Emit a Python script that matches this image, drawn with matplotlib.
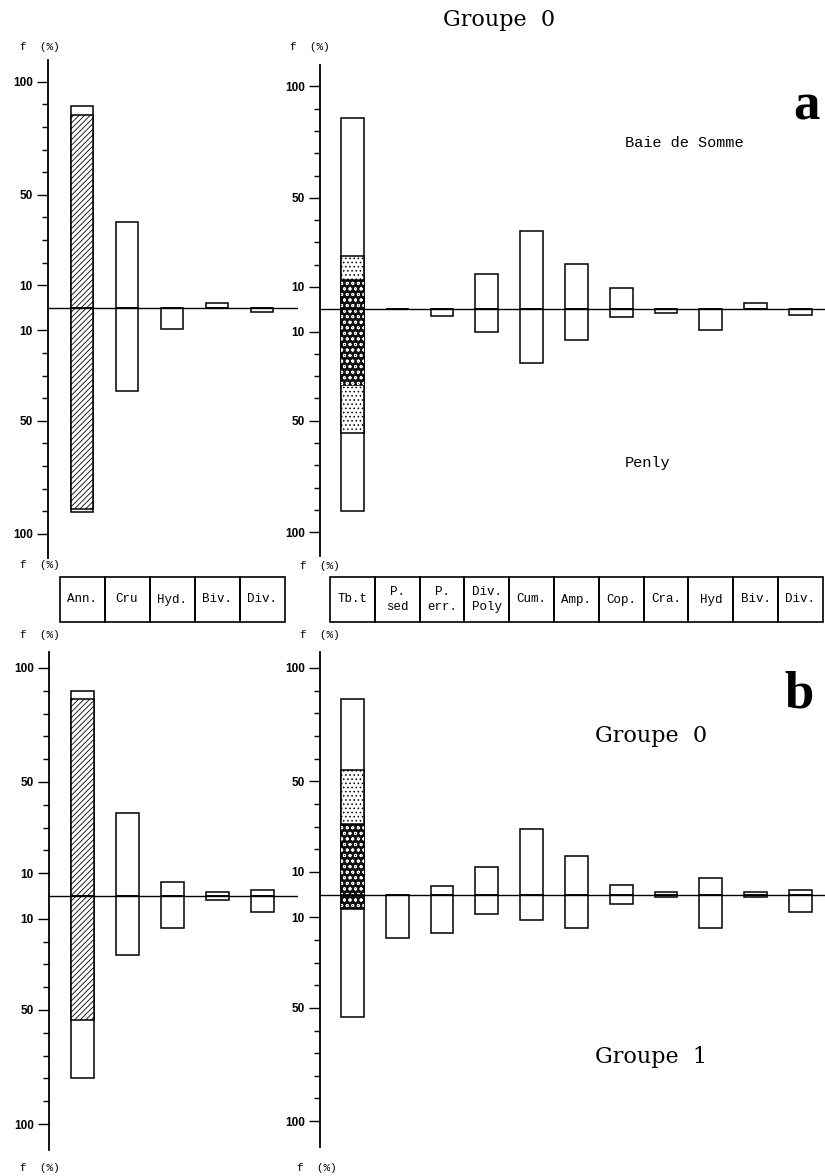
import matplotlib
matplotlib.use('Agg')
import matplotlib.pyplot as plt
from matplotlib.patches import Rectangle
import numpy as np

# categories
cats_left = ['Ann.', 'Cru', 'Hyd.', 'Biv.', 'Div.']
cats_right = ['Tb.t', 'P.\nsed', 'P.\nerr.', 'Div.\nPoly', 'Cum.', 'Amp.',
              'Cop.', 'Cra.', 'Hyd', 'Biv.', 'Div.']

# a : Baie de Somme (haut) / Penly (bas), f en %
a_left_somme = [89.3, 38.0, 0.0, 2.2, 0.0]
a_left_penly = [90.5, 36.9, 9.6, 0.0, 1.8]
a_ann_hatch = [85.3, 89.0]          # part hachuree (somme, penly)

a_right_somme = [85.7, 0.0, 0.0, 16.0, 35.3, 20.4, 9.6, 0.0, 0.0, 2.7, 0.0]
a_right_penly = [90.6, 0.0, 3.0, 10.2, 24.2, 13.6, 3.5, 1.8, 9.2, 0.0, 2.4]
a_tbt_dark = [13.0, 34.0]           # sommet partie foncee (somme, penly)
a_tbt_light = [24.0, 55.6]          # sommet partie pointillee

# b : Groupe 0 (haut) / Groupe 1 (bas)
b_left_g0 = [90.0, 36.3, 6.3, 1.6, 2.6]
b_left_g1 = [80.0, 25.9, 14.0, 1.8, 7.2]
b_ann_hatch = [86.5, 54.2]

b_right_g0 = [86.4, 0.0, 3.6, 12.2, 29.0, 16.8, 4.4, 1.0, 7.2, 1.0, 1.8]
b_right_g1 = [54.0, 19.2, 17.0, 8.8, 11.4, 14.7, 4.2, 1.0, 14.7, 1.0, 7.6]
b_tbt_dark = [31.3, 6.5]
b_tbt_light = [55.0, 0.0]

major_ticks = [-100, -50, -10, 10, 50, 100]
minor_ticks = [-90, -80, -70, -60, -40, -30, -20, 20, 30, 40, 60, 70, 80, 90]

W, H = 825, 1176
plt.rcParams['hatch.linewidth'] = 0.6
fig = plt.figure(figsize=(W / 100, H / 100), dpi=100)


def axes_px(x0, y0, x1, y1):
    return fig.add_axes([x0 / W, 1 - y1 / H, (x1 - x0) / W, (y1 - y0) / H])


def fig_text(x, y, s, **kw):
    fig.text(x / W, 1 - y / H, s, **kw)


def make_panel(x0, x1, y0, y1, xlim, ylim):
    ax = axes_px(x0, y0, x1, y1)
    ax.set_xlim(*xlim)
    ax.set_ylim(*ylim)
    ax.patch.set_alpha(0)
    for s in ['top', 'right', 'bottom']:
        ax.spines[s].set_visible(False)
    ax.spines['left'].set_linewidth(1.3)
    ax.set_xticks([])
    ax.set_yticks(major_ticks)
    ax.set_yticklabels([str(abs(t)) for t in major_ticks],
                       family='Liberation Sans', weight='bold')
    ax.set_yticks(minor_ticks, minor=True)
    ax.tick_params(axis='y', which='major', length=8, width=1, labelsize=8.5, pad=3)
    ax.tick_params(axis='y', which='minor', length=4, width=1)
    ax.axhline(0, color='black', lw=1.0, zorder=4)
    return ax


def draw_bars(ax, up, down, w=0.51):
    x = np.arange(len(up))
    ax.bar(x, up, w, color='white', edgecolor='black', lw=1.1, zorder=2)
    ax.bar(x, [-v for v in down], w, color='white', edgecolor='black', lw=1.1, zorder=2)


def hatched(ax, top, bottom, w=0.51):
    ax.bar(0, top, w, color='white', edgecolor='black', hatch='//////', lw=1.1, zorder=3)
    ax.bar(0, -bottom, w, color='white', edgecolor='black', hatch='//////', lw=1.1, zorder=3)


def tbt(ax, light, dark, w=0.51):
    for sign, lt, dk in [(1, light[0], dark[0]), (-1, light[1], dark[1])]:
        if lt > 0:
            ax.bar(0, sign * lt, w, color='white', edgecolor='black', hatch='....',
                   lw=1.1, zorder=3)
        ax.bar(0, sign * dk, w, color='#111111', edgecolor='black', lw=1.1, zorder=3)
        ax.bar(0, sign * dk, w, fill=False, edgecolor='white', hatch='ooo', lw=0, zorder=3)


def box_row(x0, x1, xlim, cats):
    ax = axes_px(x0, 577, x1, 622)
    ax.set_xlim(*xlim)
    ax.set_ylim(0, 1)
    ax.axis('off')
    for i, c in enumerate(cats):
        ax.add_patch(Rectangle((i - 0.5, 0), 1, 1, fill=False, lw=1.2, clip_on=False))
        ax.text(i, 0.5, c, ha='center', va='center', family='Liberation Mono',
                fontsize=9, linespacing=1.3)


xlim_left = ((48 - 82) / 45, (298 - 82) / 45)
xlim_right = ((320 - 352.4) / 44.8, (825 - 352.4) / 44.8)
ylim_a = (-110.7, 109.6)
ylim_b = (-111.4, 107.0)

# panneau a
ax = make_panel(48, 298, 60, 558, xlim_left, ylim_a)
draw_bars(ax, a_left_somme, a_left_penly)
hatched(ax, a_ann_hatch[0], a_ann_hatch[1])

ax = make_panel(320, 825, 65, 556, xlim_right, ylim_a)
draw_bars(ax, a_right_somme, a_right_penly)
tbt(ax, a_tbt_light, a_tbt_dark)

# panneau b
ax = make_panel(49, 298, 652, 1150, xlim_left, ylim_b)
draw_bars(ax, b_left_g0, b_left_g1)
hatched(ax, b_ann_hatch[0], b_ann_hatch[1])

ax = make_panel(320, 825, 652, 1147, xlim_right, ylim_b)
draw_bars(ax, b_right_g0, b_right_g1)
tbt(ax, b_tbt_light, b_tbt_dark)

# rangee des etiquettes
box_row(48, 298, xlim_left, cats_left)
box_row(320, 825, xlim_right, cats_right)

# textes
serif = 'DejaVu Serif'
fig_text(499, 20, 'Groupe  0', ha='center', va='center', family=serif, fontsize=16)
fig_text(806, 106, 'a', ha='center', va='center', family='Liberation Serif',
         weight='bold', fontsize=38)
fig_text(799, 694, 'b', ha='center', va='center', family='Liberation Serif',
         weight='bold', fontsize=38)
fig_text(625, 143, 'Baie de Somme', ha='left', va='center', family='Liberation Mono', fontsize=11)
fig_text(625, 463, 'Penly', ha='left', va='center', family='Liberation Mono', fontsize=11)
fig_text(651, 736, 'Groupe  0', ha='center', va='center', family=serif, fontsize=16)
fig_text(651, 1057, 'Groupe  1', ha='center', va='center', family=serif, fontsize=16)

for x, y in [(20, 47), (290, 47), (20, 565), (300, 566), (20, 635), (300, 635),
             (20, 1168), (297, 1168)]:
    fig_text(x, y, 'f  (%)', ha='left', va='center', family='Liberation Mono', fontsize=8)

fig.savefig('out.png', dpi=100)
